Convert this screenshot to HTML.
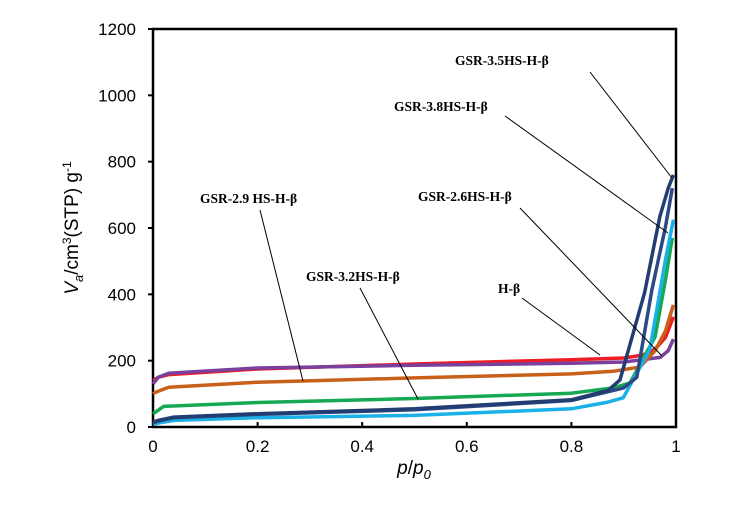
<!DOCTYPE html>
<html><head><meta charset="utf-8"><style>
body{margin:0;background:#fff;}
svg{display:block;font-family:"Liberation Sans",sans-serif;}
.lbl{font-family:"Liberation Serif",serif;font-weight:bold;font-size:13.5px;}
</style></head><body>
<svg id="chart" width="744" height="530">
<rect x="153" y="29" width="523" height="398" fill="none" stroke="#000" stroke-width="2.5"/>
<g id="grid"></g>
<g id="series"></g>
<g id="labels"></g>
<text x="78" y="228" transform="rotate(-90 78 228)" text-anchor="middle" font-size="19"><tspan font-style="italic">V</tspan><tspan font-style="italic" font-size="13" dy="5">a</tspan><tspan dy="-5">/cm</tspan><tspan font-size="12" dy="-7">3</tspan><tspan dy="7">(STP) g</tspan><tspan font-size="12" dy="-7">-1</tspan></text>
<text x="414" y="474" text-anchor="middle" font-size="19"><tspan font-style="italic">p</tspan>/<tspan font-style="italic">p</tspan><tspan font-style="italic" font-size="13" dy="5">0</tspan></text>
</svg>
<script>
const xTicks=[0,0.2,0.4,0.6,0.8,1];
const xTickLabels=["0","0.2","0.4","0.6","0.8","1"];
const yTicks=[0,200,400,600,800,1000,1200];
const pRed=[0,0.01,0.03,0.2,0.5,0.8,0.9,0.937,0.96,0.98,0.995];
const vRed=[140,150,158,175,190,203,208,217,235,270,332];
const pPurple=[0,0.01,0.03,0.2,0.5,0.8,0.9,0.97,0.985,0.995];
const vPurple=[130,150,162,178,186,192,196,210,230,265];
const pOrange=[0,0.005,0.03,0.2,0.5,0.8,0.88,0.931,0.96,0.98,0.995];
const vOrange=[100,105,120,135,148,160,168,181,230,290,368];
const pGreen=[0,0.005,0.02,0.2,0.5,0.8,0.88,0.912,0.96,0.98,0.993];
const vGreen=[40,45,62,74,86,102,118,133,272,444,570];
const pNavy1=[0,0.01,0.04,0.2,0.5,0.8,0.87,0.893,0.94,0.969,0.985,0.995];
const vNavy1=[15,20,30,40,55,82,110,142,405,634,720,760];
const pNavy2=[0,0.01,0.04,0.2,0.5,0.8,0.9,0.925,0.954,0.98,0.993];
const vNavy2=[12,18,28,38,52,80,118,150,414,604,720];
const pLight=[0,0.01,0.04,0.2,0.5,0.8,0.87,0.899,0.95,0.98,0.995];
const vLight=[8,12,20,28,35,55,75,88,233,505,625];
const seriesList=[
 {name:"series-h-beta",p:pRed,v:vRed,c:"#ee1c24"},
 {name:"series-gsr-2-6",p:pPurple,v:vPurple,c:"#7b3f9e"},
 {name:"series-gsr-2-9",p:pOrange,v:vOrange,c:"#c8601a"},
 {name:"series-gsr-3-2",p:pGreen,v:vGreen,c:"#16a853"},
 {name:"series-gsr-3-8",p:pLight,v:vLight,c:"#1ab0e8"},
 {name:"series-gsr-3-5a",p:pNavy2,v:vNavy2,c:"#2b4a85"},
 {name:"series-gsr-3-5",p:pNavy1,v:vNavy1,c:"#223d72"}];
const X=p=>153+p*523, Y=v=>427-v*(398/1200);
const NS="http://www.w3.org/2000/svg";
const g=document.getElementById('grid');
function mk(t,a,par){const e=document.createElementNS(NS,t);for(const k in a)e.setAttribute(k,a[k]);par.appendChild(e);return e;}
yTicks.forEach(v=>{
 const l=mk('line',{x1:148,x2:153,y1:Y(v),y2:Y(v),stroke:'#000','stroke-width':2},g);
 
 
 const t=mk('text',{x:136,y:Y(v)+6,'text-anchor':'end','font-size':17},g);t.textContent=v;
 
 
});
xTicks.forEach((p,i)=>{
 const l=mk('line',{x1:X(p),x2:X(p),y1:422,y2:427,stroke:'#000','stroke-width':2},g);
 
 
 const t=mk('text',{x:X(p),y:452,'text-anchor':'middle','font-size':17},g);t.textContent=xTickLabels[i];
 
 
});
const sg=document.getElementById('series');
seriesList.forEach(s=>{
 const d=s.p.map((p,i)=>(i?'L':'M')+X(p).toFixed(1)+','+Y(s.v[i]).toFixed(1)).join(' ');
 const e=mk('path',{d:d,fill:'none',stroke:s.c,'stroke-width':3.5,'stroke-linejoin':'round'},sg);
 
 
});
const lg=document.getElementById('labels');
const ann=[
 ["GSR-3.5HS-H-β",455,65,590,72,672,178,"label-gsr-3-5"],
 ["GSR-3.8HS-H-β",394,111,505,116,668,233,"label-gsr-3-8"],
 ["GSR-2.6HS-H-β",418,201,520,208,662,356,"label-gsr-2-6"],
 ["GSR-2.9 HS-H-β",200,203,260,210,303,381,"label-gsr-2-9"],
 ["GSR-3.2HS-H-β",306,281,360,288,418,399,"label-gsr-3-2"],
 ["H-β",498,293,522,298,600,355,"label-h-beta"]];
ann.forEach(a=>{
 const t=mk('text',{x:a[1],y:a[2],class:'lbl'},lg);t.textContent=a[0];
 
 
 const l=mk('line',{x1:a[3],y1:a[4],x2:a[5],y2:a[6],stroke:'#000','stroke-width':1},lg);
 
 
});
</script>
</body></html>
